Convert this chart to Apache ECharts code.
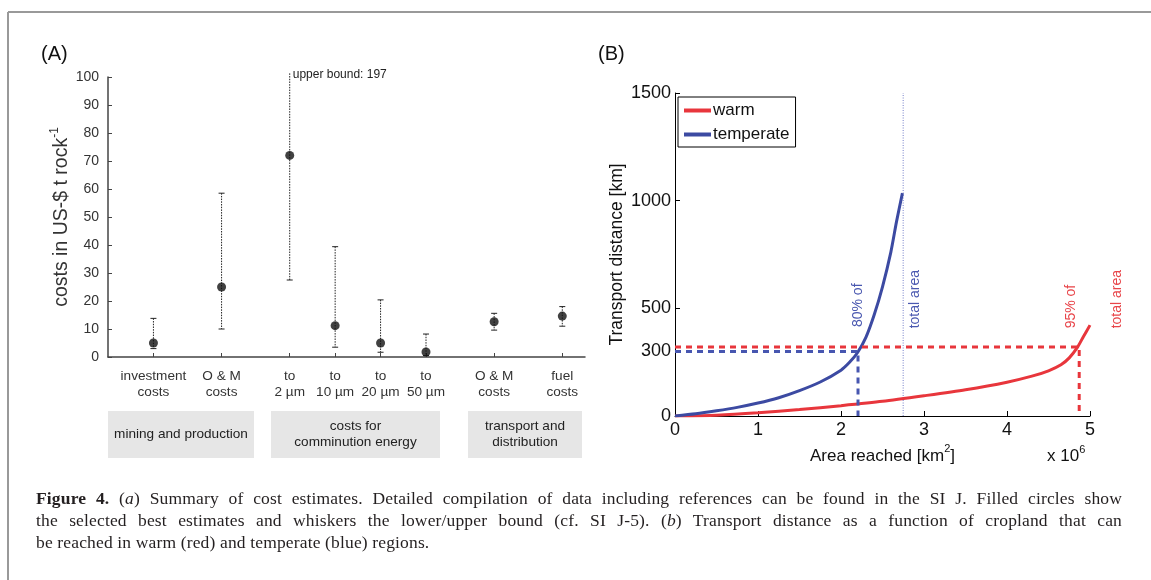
<!DOCTYPE html>
<html><head><meta charset="utf-8">
<script src="https://cdn.jsdelivr.net/npm/echarts@6/dist/echarts.min.js"></script>
<style>
html,body{margin:0;padding:0;background:#fff;}
#wrap{position:relative;width:1151px;height:580px;overflow:hidden;}
#chart{position:absolute;left:0;top:0;width:1151px;height:580px;}
#cap{position:absolute;left:36px;top:487px;width:1086px;font-family:'Liberation Serif','DejaVu Serif',serif;font-size:17.5px;letter-spacing:0.15px;line-height:22px;color:#231f20;}
#cap .j{text-align:justify;text-align-last:justify;}
</style></head>
<body>
<div id="wrap">
<div id="chart"></div>
<div id="cap">
<div class="j"><b>Figure 4.</b> (<i>a</i>) Summary of cost estimates. Detailed compilation of data including references can be found in the SI J. Filled circles show</div>
<div class="j">the selected best estimates and whiskers the lower/upper bound (cf. SI J-5). (<i>b</i>) Transport distance as a function of cropland that can</div>
<div>be reached in warm (red) and temperate (blue) regions.</div>
</div>
</div>
<script>
// ---------- Panel A data ----------
const costLabels = ['', '', 'investment\ncosts', '', '', 'O & M\ncosts', '', '', 'to\n2 µm', '', 'to\n10 µm', '', 'to\n20 µm', '', 'to\n50 µm', '', '', 'O & M\ncosts', '', '', 'fuel\ncosts', ''];
const costBest = [5, 25, 72, 11.2, 5, 1.8, 12.6, 14.6];
const costLow  = [3, 10, 27.5, 3.5, 1.7, 0.5, 9.6, 11];
const costHigh = [13.8, 58.5, 197, 39.4, 20.4, 8.2, 15.6, 18];
const costGroups = ['mining and production', 'costs for\ncomminution energy', 'transport and\ndistribution'];
const costMax = 100;

// ---------- Panel B data ----------
const tempArea = [0, 0.25, 0.5, 0.75, 1, 1.25, 1.5, 1.75, 2, 2.1, 2.2, 2.3, 2.4, 2.5, 2.6, 2.67, 2.74];
const tempDist = [0, 10, 24, 40, 60, 85, 118, 158, 213, 248, 295, 365, 470, 600, 760, 905, 1035];
const warmArea = [0, 0.5, 1, 1.5, 2, 2.5, 3, 3.5, 4, 4.3, 4.5, 4.65, 4.75, 4.85, 4.92, 5.0];
const warmDist = [0, 4, 15, 30, 48, 68, 94, 122, 157, 185, 210, 238, 270, 320, 368, 422];
const distTicks = [0, 300, 500, 1000, 1500];
const tempShareArea = 2.205, tempShareDist = 300;   // 80% of total area
const warmShareArea = 4.87, warmShareDist = 320;    // 95% of total area
const tempTotalArea = 2.75;

const RED = '#e8363c', BLUE = '#3c4aa2';
const FONT = 'Liberation Sans, Arial, sans-serif';

const idx = costLabels.map((c, i) => c ? i : -1).filter(i => i >= 0);
const pts = idx.map((i, k) => [i, costBest[k]]);
const bars = idx.map((i, k) => [i, costLow[k], costHigh[k]]);

const chart = echarts.init(document.getElementById('chart'), null, {renderer: 'canvas'});
const option = {
  animation: false,
  textStyle: {fontFamily: FONT},
  legend: {
    data: [{name: 'warm', icon: 'rect'}, {name: 'temperate', icon: 'rect'}],
    orient: 'vertical', left: 678, top: 97,
    borderColor: '#000', borderWidth: 1, padding: [4, 6, 3, 6], itemGap: 5,
    itemWidth: 27, itemHeight: 4, backgroundColor: '#fff',
    textStyle: {fontSize: 17, color: '#111', fontFamily: FONT, padding: [0, 0, 0, -3], lineHeight: 19}
  },
  grid: [
    {left: 108, top: 77, width: 477, height: 280},
    {left: 675, top: 93, width: 415, height: 323}
  ],
  xAxis: [
    {type: 'category', gridIndex: 0, data: costLabels, boundaryGap: false,
     axisLine: {lineStyle: {color: '#444', width: 1.5}},
     axisTick: {inside: true, length: 4, interval: (i, v) => v !== '', lineStyle: {color: '#444'}},
     axisLabel: {interval: (i, v) => v !== '', fontSize: 13.6, lineHeight: 16, color: '#333', margin: 11},
     splitLine: {show: false}},
    {type: 'value', gridIndex: 1, min: 0, max: 5, interval: 1,
     axisLine: {lineStyle: {color: '#000', width: 1}},
     axisTick: {inside: true, length: 5, lineStyle: {color: '#000'}},
     axisLabel: {fontSize: 18, color: '#111', margin: 5},
     splitLine: {show: false},
     name: '{a|Area reached [km}{s|2}{a|]}', nameLocation: 'middle', nameGap: 25,
     nameTextStyle: {rich: {a: {fontSize: 17, color: '#111', lineHeight: 24, fontFamily: FONT},
                            s: {fontSize: 11, color: '#111', verticalAlign: 'top', fontFamily: FONT}}}}
  ],
  yAxis: [
    {type: 'value', gridIndex: 0, min: 0, max: costMax, interval: 10,
     axisLine: {show: true, lineStyle: {color: '#444', width: 1.5}},
     axisTick: {show: true, inside: true, length: 4, lineStyle: {color: '#444'}},
     axisLabel: {fontSize: 14, color: '#333', margin: 9},
     splitLine: {show: false},
     name: '{n|costs in US-$ t rock}{s|-1}', nameLocation: 'middle', nameGap: 32, nameRotate: 90,
     nameTextStyle: {rich: {n: {fontSize: 19.5, color: '#333', lineHeight: 26, fontFamily: FONT},
                            s: {fontSize: 12, color: '#333', verticalAlign: 'top', fontFamily: FONT}}}},
    {type: 'value', gridIndex: 1, min: 0, max: 1500,
     axisLine: {show: true, lineStyle: {color: '#000', width: 1}},
     axisTick: {show: true, inside: true, length: 5, customValues: distTicks, lineStyle: {color: '#000'}},
     axisLabel: {fontSize: 18, color: '#111', margin: 4, customValues: distTicks, formatter: v => String(v)},
     splitLine: {show: false},
     name: 'Transport distance [km]', nameLocation: 'middle', nameGap: 45, nameRotate: 90,
     nameTextStyle: {fontSize: 17.5, color: '#111', lineHeight: 20}}
  ],
  series: [
    {type: 'custom', xAxisIndex: 0, yAxisIndex: 0, data: bars, clip: false, silent: true,
     renderItem: function (params, api) {
       const x = api.value(0), lo = api.value(1), hi = api.value(2);
       const capped = hi > costMax;
       const top = api.coord([x, capped ? costMax + 1.3 : hi]);
       const bot = api.coord([x, lo]);
       const ds = {stroke: '#222', lineWidth: 1, lineDash: [1.5, 1.2]};
       const children = [
         {type: 'line', shape: {x1: top[0], y1: top[1], x2: bot[0], y2: bot[1]}, style: ds},
         {type: 'line', shape: {x1: bot[0] - 3, y1: bot[1], x2: bot[0] + 3, y2: bot[1]}, style: {stroke: '#222', lineWidth: 1}}
       ];
       if (!capped) children.push({type: 'line', shape: {x1: top[0] - 3, y1: top[1], x2: top[0] + 3, y2: top[1]}, style: {stroke: '#222', lineWidth: 1}});
       return {type: 'group', children: children};
     }},
    {type: 'scatter', xAxisIndex: 0, yAxisIndex: 0, data: pts, symbol: 'circle', symbolSize: 9,
     itemStyle: {color: '#111'}, silent: true, z: 5},
    {type: 'line', name: 'dotted-total', xAxisIndex: 1, yAxisIndex: 1, data: [[tempTotalArea, 0], [tempTotalArea, 1500]],
     symbol: 'none', silent: true, lineStyle: {color: '#a3aadb', width: 1.5, type: [1, 1.5]}, z: 1},
    {type: 'line', name: 'warm', xAxisIndex: 1, yAxisIndex: 1, data: warmArea.map((a, i) => [a, warmDist[i]]),
     symbol: 'none', smooth: 0.25, color: RED, itemStyle: {color: RED}, lineStyle: {color: RED, width: 3}, z: 3},
    {type: 'line', name: 'temperate', xAxisIndex: 1, yAxisIndex: 1, data: tempArea.map((a, i) => [a, tempDist[i]]),
     symbol: 'none', smooth: 0.25, color: BLUE, itemStyle: {color: BLUE}, lineStyle: {color: BLUE, width: 3}, z: 3},
    {type: 'line', name: 'warm-guide', xAxisIndex: 1, yAxisIndex: 1,
     data: [[0, warmShareDist], [warmShareArea, warmShareDist], [warmShareArea, 0]],
     symbol: 'none', silent: true, lineStyle: {color: RED, width: 3, type: [6, 5]}, z: 4},
    {type: 'line', name: 'temp-guide', xAxisIndex: 1, yAxisIndex: 1,
     data: [[0, tempShareDist], [tempShareArea, tempShareDist], [tempShareArea, 0]],
     symbol: 'none', silent: true, lineStyle: {color: '#4756b0', width: 3, type: [6, 5]}, z: 4}
  ]
};
chart.setOption(option);

// ---------- annotations positioned through the axes ----------
const pA = (x, y) => chart.convertToPixel({gridIndex: 0}, [x, y]);
const pB = (x, y) => chart.convertToPixel({gridIndex: 1}, [x, y]);
const to2 = pA(idx[2], costMax);

function vtext(p, text, color) {
  return {type: 'text', x: p[0], y: p[1], rotation: Math.PI / 2, z: 10,
          style: {text: text, fill: color, fontSize: 14, fontFamily: FONT,
                  align: 'left', verticalAlign: 'middle', textAlign: 'left', textVerticalAlign: 'middle'}};
}
const boxes = [[108, 254], [271, 440], [468, 582]];
const graphics = [
  {type: 'line', shape: {x1: 8, y1: 12, x2: 1151, y2: 12}, style: {stroke: '#999', lineWidth: 2}},
  {type: 'line', shape: {x1: 8, y1: 12, x2: 8, y2: 580}, style: {stroke: '#999', lineWidth: 2}},
  {type: 'text', x: 41, y: 54, style: {text: '(A)', fontSize: 20, fill: '#111', fontFamily: FONT, verticalAlign: 'middle', textVerticalAlign: 'middle'}},
  {type: 'text', x: 598, y: 54, style: {text: '(B)', fontSize: 20, fill: '#111', fontFamily: FONT, verticalAlign: 'middle', textVerticalAlign: 'middle'}},
  {type: 'text', x: to2[0] + 3, y: to2[1] - 2, style: {text: 'upper bound: 197', fontSize: 12, fill: '#222', fontFamily: FONT, verticalAlign: 'middle', textVerticalAlign: 'middle'}},
  vtext(pB(tempShareArea, 413), '80% of', '#4a58b0'),
  vtext(pB(2.89, 407), 'total area', '#4a58b0'),
  vtext(pB(4.77, 407), '95% of', '#e8454a'),
  vtext(pB(5.33, 407), 'total area', '#e8454a'),
  {type: 'text', x: 1047, y: 456, style: {text: '{a|x 10}{s|6}', fontFamily: FONT, verticalAlign: 'middle', textVerticalAlign: 'middle',
     rich: {a: {fontSize: 17, fill: '#111', color: '#111', lineHeight: 24, fontFamily: FONT},
            s: {fontSize: 11, fill: '#111', color: '#111', verticalAlign: 'top', fontFamily: FONT}}}}
];
boxes.forEach((b, i) => {
  graphics.push({type: 'rect', shape: {x: b[0], y: 411, width: b[1] - b[0], height: 47}, style: {fill: '#e6e6e6'}, z: 0});
  graphics.push({type: 'text', x: (b[0] + b[1]) / 2, y: 434.5, z: 2,
    style: {text: costGroups[i], fontSize: 13.6, lineHeight: 16, fill: '#222', fontFamily: FONT,
            align: 'center', verticalAlign: 'middle', textAlign: 'center', textVerticalAlign: 'middle'}});
});
chart.setOption({graphic: graphics});
</script>
</body></html>
